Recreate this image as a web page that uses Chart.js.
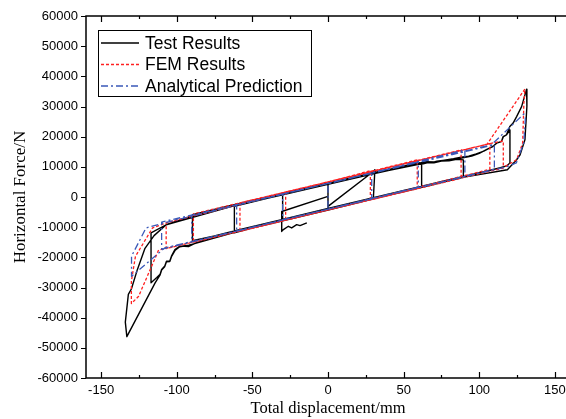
<!DOCTYPE html>
<html>
<head>
<meta charset="utf-8">
<script src="https://cdn.jsdelivr.net/npm/chart.js@4.4.1/dist/chart.umd.min.js"></script>
<style>
  html, body { margin: 0; padding: 0; background: #fff; overflow: hidden; }
  #wrap { width: 580px; height: 419px; }
</style>
</head>
<body>
<div id="wrap"><canvas id="chart" width="580" height="419" style="width:580px;height:419px"></canvas></div>
<script>
// series labels
var seriesNames = ["Test Results", "FEM Results", "Analytical Prediction"];

// tick values
var xTicks = [-150, -125, -100, -75, -50, -25, 0, 25, 50, 75, 100, 125, 150];
var yTicks = [-60000, -50000, -40000, -30000, -20000, -10000, 0, 10000, 20000, 30000, 40000, 50000, 60000];

// Test results (path of the loops)
var testX = [-14, -18.5, -20.7, -24, -26.2, -29.5, -30.6, -30.6, 0, 0, 0, 0, 30, 31, 30, -30, -30,
    0, 30, 60, 61.9, 61.9, 30, 0, -30, -61.9, -61.9,
    -30, 0, 30, 60, 63, 66, 70, 75, 80, 85, 89.5, 89.5, 60, 30, 0, -30, -60, -75, -89.6, -89.6,
    -60, -30, 0, 30, 60, 65, 70, 78, 85, 90, 95, 100, 105, 109, 111.5, 114.7, 116, 118, 120.3, 120.3, 118, 114, 90, 60, 30, 0, -30, -60,
    -87, -92, -97.9, -101.2, -103.5, -104.6, -106.8, -107.9, -110, -111, -113.2, -117, -117, -107,
    -90, -60, -30, 0, 30, 60, 64, 68, 72, 77, 83, 88, 93, 98, 103, 109, 111.5, 114.7, 115.8, 118, 120.2, 122.4, 124.7, 128, 131.3, 131.5, 130.2, 127, 124.7, 118.6,
    90, 60, 30, 0, -30, -60, -87, -92, -98, -101, -103.5, -104.6, -106.8, -108, -110, -111, -114.3, -133,
    -134, -132, -130, -126, -121, -115, -107, -60, -30, 0];
var testY = [-8600, -9500, -9160, -10250, -9700, -10800, -11400, -4800, 200, 4070, -4200, -3100, 8470, 9000, -330, -7700, 1060,
    4300, 7900, 11500, 11000, 3300, -300, -3900, -7500, -11900, -3100,
    800, 4300, 7800, 10800, 11000, 11400, 11300, 11900, 12000, 12500, 12300, 6800, 3300, -200, -3800, -7400, -11000, -12900, -14500, -5900,
    -2300, 1200, 4600, 8100, 11200, 11700, 11600, 12300, 12600, 13100, 13600, 14500, 15800, 16740, 17860, 18400, 20050, 20600, 22200, 11250, 10300, 9700, 6800, 3200, -400, -4100, -7700, -11200,
    -15100, -16400, -16300, -17400, -19600, -21200, -21300, -22900, -24000, -25600, -26700, -28400, -11900, -9200,
    -6300, -2700, 700, 4200, 7700, 11000, 11500, 11300, 11900, 12200, 12700, 13200, 13500, 14300, 15200, 16740, 17860, 18400, 20050, 20600, 23350, 24500, 26660, 29970, 35700, 30000, 18950, 14000, 12340, 9030,
    6600, 3000, -600, -4300, -7900, -11500, -15300, -16000, -16500, -17600, -19800, -21400, -21500, -23100, -24200, -25800, -28450, -46300,
    -41500, -32300, -30500, -24000, -17000, -12800, -9200, -2600, 900, 4400];

// FEM results
var femX = [0, 28, 28, -28, -28, 0, 59, 59, 0, -58.2, -58.2, 0, 88, 88, 0, -89, -89, 0, 107, 107, 0, -107, -107,
    0, 107, 115.9, 115.9, 0, -112, -125.2, -130, -130, -127.3, -116, -107, 0,
    105, 130.2, 129.5, 128.7, 124.7, 115, 0];
var femY = [5000, 8700, -900, -7600, 1700, 5000, 12300, 2800, -4300, -11400, -2000, 5000, 15600, 6200, -4300, -15000, -5600, 5000, 17700, 9200, -4300, -17100, -8500,
    5000, 17700, 18600, 9600, -4300, -17600, -32900, -35300, -27900, -19650, -10250, -8600, 5000,
    17400, 35800, 31000, 17900, 12340, 9500, -4300];

// Analytical prediction
var anaX = [0, 0, 28.9, 28.9, -30, -30, 0, 59.7, 59.7, 0, -60.4, -60.4, 0, 90.5, 90.5, 0, -90.1, -90.1, 0, 110, 110, 0, -110, -110,
    0, 108, 129.5, 130.5, 129.5, 124.5, 118, 0, -108, -129.9, -129.9, -120.3, -107, 0];
var anaY = [-3600, 4400, 7900, -700, -7500, 1000, 4500, 11600, 3300, -4000, -11300, -2600, 4500, 15600, 6800, -4000, -14900, -6100, 4500, 17300, 9200, -4000, -17300, -8300,
    4500, 17300, 27500, 26000, 18000, 11300, 10000, -4000, -16900, -26300, -19650, -10250, -8400, 4500];

function toPoints(xs, ys) {
    return xs.map(function (x, i) { return {x: x, y: ys[i]}; });
}

var colors = ['#000000', '#ff2020', '#3a58b8'];
var dashes = [[], [3, 2], [7, 3, 2, 3]];

// frame, inward ticks and boxed legend
var framePlugin = {
    id: 'frame',
    afterDraw: function (chart) {
        var ctx = chart.ctx, a = chart.chartArea, x = chart.scales.x, y = chart.scales.y;
        ctx.save();
        ctx.strokeStyle = '#000';
        ctx.lineWidth = 1.5;
        ctx.setLineDash([]);
        ctx.strokeRect(a.left, a.top, a.right - a.left, a.bottom - a.top);
        ctx.lineWidth = 1.2;
        ctx.beginPath();
        xTicks.forEach(function (v) {
            var px = Math.round(x.getPixelForValue(v)) + 0.5;
            var len = (v % 50 === 0) ? 6 : 3;
            ctx.moveTo(px, a.bottom);
            ctx.lineTo(px, a.bottom - len);
            ctx.moveTo(px, a.top);
            ctx.lineTo(px, a.top + len);
        });
        yTicks.forEach(function (v) {
            var py = Math.round(y.getPixelForValue(v)) + 0.5;
            ctx.moveTo(a.left - 5, py);
            ctx.lineTo(a.left, py);
        });
        ctx.stroke();

        // legend
        var lx = 98, ly = 30, lw = 213, lh = 66;
        ctx.fillStyle = '#fff';
        ctx.fillRect(lx, ly, lw, lh);
        ctx.lineWidth = 1;
        ctx.strokeRect(lx + 0.5, ly + 0.5, lw, lh);
        ctx.font = '17.5px "Liberation Sans", Arial, sans-serif';
        ctx.textBaseline = 'middle';
        ctx.textAlign = 'left';
        var rows = [43, 64.5, 86];
        seriesNames.forEach(function (name, i) {
            ctx.strokeStyle = colors[i];
            ctx.lineWidth = 1.3;
            ctx.setLineDash(dashes[i]);
            ctx.beginPath();
            ctx.moveTo(101, rows[i]);
            ctx.lineTo(139, rows[i]);
            ctx.stroke();
            ctx.setLineDash([]);
            ctx.fillStyle = '#000';
            ctx.fillText(name, 145, rows[i] + 1);
        });
        ctx.restore();
    }
};

var series = [toPoints(testX, testY), toPoints(femX, femY), toPoints(anaX, anaY)];

new Chart(document.getElementById('chart'), {
    type: 'scatter',
    data: {
        datasets: series.map(function (pts, i) {
            return {
                label: seriesNames[i],
                data: pts,
                showLine: true,
                borderColor: colors[i],
                backgroundColor: colors[i],
                borderWidth: i === 0 ? 1.4 : 1.3,
                borderDash: dashes[i],
                borderJoinStyle: 'round',
                pointRadius: 0,
                tension: 0,
                order: 3 - i
            };
        })
    },
    options: {
        responsive: false,
        animation: false,
        layout: {padding: {top: 16, right: 10, left: 0, bottom: 0}},
        plugins: {legend: {display: false}, tooltip: {enabled: false}},
        scales: {
            x: {
                type: 'linear',
                min: -160,
                max: 160,
                grid: {display: false, drawTicks: false},
                border: {display: false},
                afterBuildTicks: function (s) {
                    s.ticks = xTicks.filter(function (v) { return v % 50 === 0; }).map(function (v) { return {value: v}; });
                },
                afterFit: function (s) { s.height = 41; },
                ticks: {
                    padding: 5,
                    color: '#000',
                    font: {family: '"Liberation Sans", Arial, sans-serif', size: 13},
                    callback: function (v) { return String(v); }
                },
                title: {
                    display: true,
                    text: 'Total displacement/mm',
                    color: '#000',
                    padding: 0,
                    font: {family: '"Liberation Serif", "Times New Roman", serif', size: 16.5}
                }
            },
            y: {
                type: 'linear',
                min: -60000,
                max: 60000,
                grid: {display: false, drawTicks: false},
                border: {display: false},
                afterBuildTicks: function (s) {
                    s.ticks = yTicks.map(function (v) { return {value: v}; });
                },
                afterFit: function (s) { s.width = 86; },
                ticks: {
                    padding: 8,
                    color: '#000',
                    font: {family: '"Liberation Sans", Arial, sans-serif', size: 13},
                    callback: function (v) { return String(v); }
                },
                title: {
                    display: true,
                    text: 'Horizontal Force/N',
                    color: '#000',
                    padding: {top: 10, bottom: 0},
                    font: {family: '"Liberation Serif", "Times New Roman", serif', size: 17}
                }
            }
        }
    },
    plugins: [framePlugin]
});
</script>
</body>
</html>
